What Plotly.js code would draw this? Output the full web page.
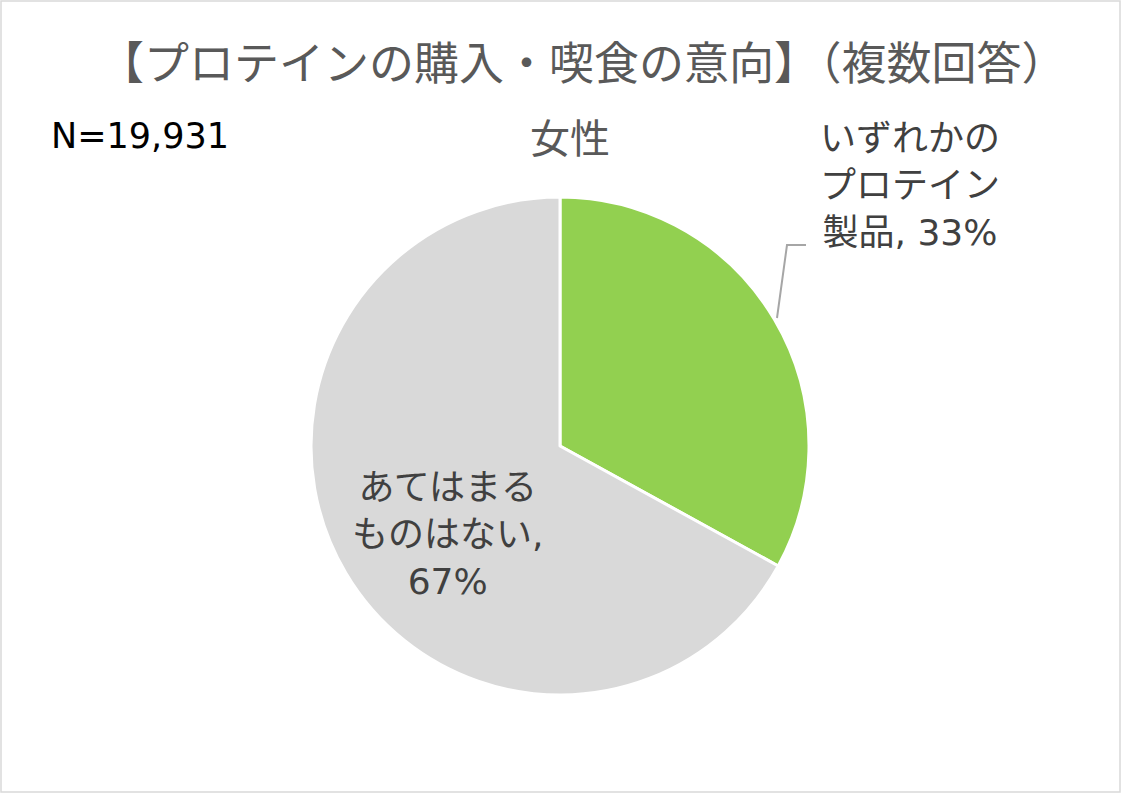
<!DOCTYPE html>
<html><head><meta charset="utf-8">
<script src="https://cdn.plot.ly/plotly-3.0.1.min.js"></script>
<style>html,body{margin:0;padding:0;background:#fff}</style>
</head><body>
<div id="chart" style="width:1121px;height:793px"></div>
<script>
const categories = ["いずれかの<br>プロテイン<br>製品", "あてはまる<br>ものはない"];
const values = [33, 67];
const colors = ["#92D050", "#D9D9D9"];
const titleText = "【プロテインの購入・喫食の意向】（複数回答）";
const subtitleText = "女性";
const sampleText = "N=19,931";

const W = 1121, H = 793;
const px = x => x / W, py = y => 1 - y / H;
const CJK = "Noto Sans CJK JP, sans-serif";
const MIX = "DejaVu Sans, Noto Sans CJK JP, sans-serif";

const trace = {
  type: "pie",
  labels: categories,
  values: values,
  sort: false,
  direction: "clockwise",
  rotation: 0,
  textinfo: "none",
  hoverinfo: "none",
  marker: {colors: colors, line: {color: "#FFFFFF", width: 3}},
  domain: {x: [px(311), px(809)], y: [py(695), py(197)]},
  showlegend: false
};

function ann(text, x, y, font) {
  return {text: text, x: px(x), y: py(y), xref: "paper", yref: "paper", showarrow: false,
          xanchor: "center", yanchor: "middle", align: "center", font: font};
}

const annotations = [
  ann(titleText, 583, 60, {family: CJK, size: 45, color: "#595959"}),
  ann(subtitleText, 570, 136, {family: CJK, size: 40, color: "#595959"}),
  ann(sampleText, 140, 136, {family: MIX, size: 35, color: "#000000"}),
  ann(categories[0] + ", " + values[0] + "%", 910, 185, {family: MIX, size: 36, color: "#404040"}),
  ann(categories[1] + ",<br>" + values[1] + "%", 447, 534, {family: MIX, size: 36, color: "#404040"})
];

const shapes = [
  {type: "rect", xref: "paper", yref: "paper", x0: px(1), x1: px(1120), y0: py(792), y1: py(1),
   line: {color: "#D9D9D9", width: 1.5}},
  {type: "path", xref: "paper", yref: "paper",
   path: "M " + px(777) + " " + py(318) + " L " + px(787) + " " + py(245) + " L " + px(806) + " " + py(245),
   line: {color: "#A6A6A6", width: 2}}
];

const layout = {
  width: W, height: H,
  margin: {l: 0, r: 0, t: 0, b: 0},
  paper_bgcolor: "#FFFFFF",
  annotations: annotations,
  shapes: shapes
};

Plotly.newPlot("chart", [trace], layout, {displayModeBar: false, staticPlot: true});
</script>
</body></html>
